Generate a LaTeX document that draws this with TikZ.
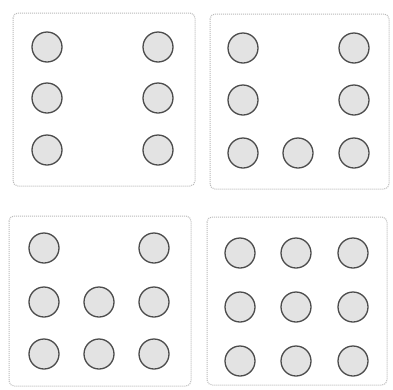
\documentclass[tikz,border=0pt]{standalone}
\begin{document}
\begin{tikzpicture}[x=1pt,y=-1pt,
  card/.style={draw=gray!55, line width=1pt, rounded corners=5pt, densely dotted},
  pip/.style={circle, minimum size=30pt, inner sep=0pt, fill=gray!22, draw=gray!60!black, line width=1.3pt}]
\useasboundingbox[fill=white] (0,0) rectangle (393,389);
% card 1 (six)
\draw[card] (13,13) rectangle (195,186);
\foreach \x/\y [count=\i] in {47/47,158/47,47/98,158/98,47/150,158/150}
  \node[pip] (a\i) at (\x,\y) {};
% card 2 (seven)
\draw[card] (210,14) rectangle (389,189);
\foreach \x/\y [count=\i] in {243/48,354/48,243/100,354/100,243/153,298/153,354/153}
  \node[pip] (b\i) at (\x,\y) {};
% card 3 (eight)
\draw[card] (9,216) rectangle (191,386);
\foreach \x/\y [count=\i] in {44/248,154/248,44/302,99/302,154/302,44/354,99/354,154/354}
  \node[pip] (c\i) at (\x,\y) {};
% card 4 (nine)
\draw[card] (207,217) rectangle (387,385);
\foreach \x/\y [count=\i] in {240/253,296/253,353/253,240/307,296/307,353/307,240/361,296/361,353/361}
  \node[pip] (d\i) at (\x,\y) {};
\end{tikzpicture}
\end{document}
